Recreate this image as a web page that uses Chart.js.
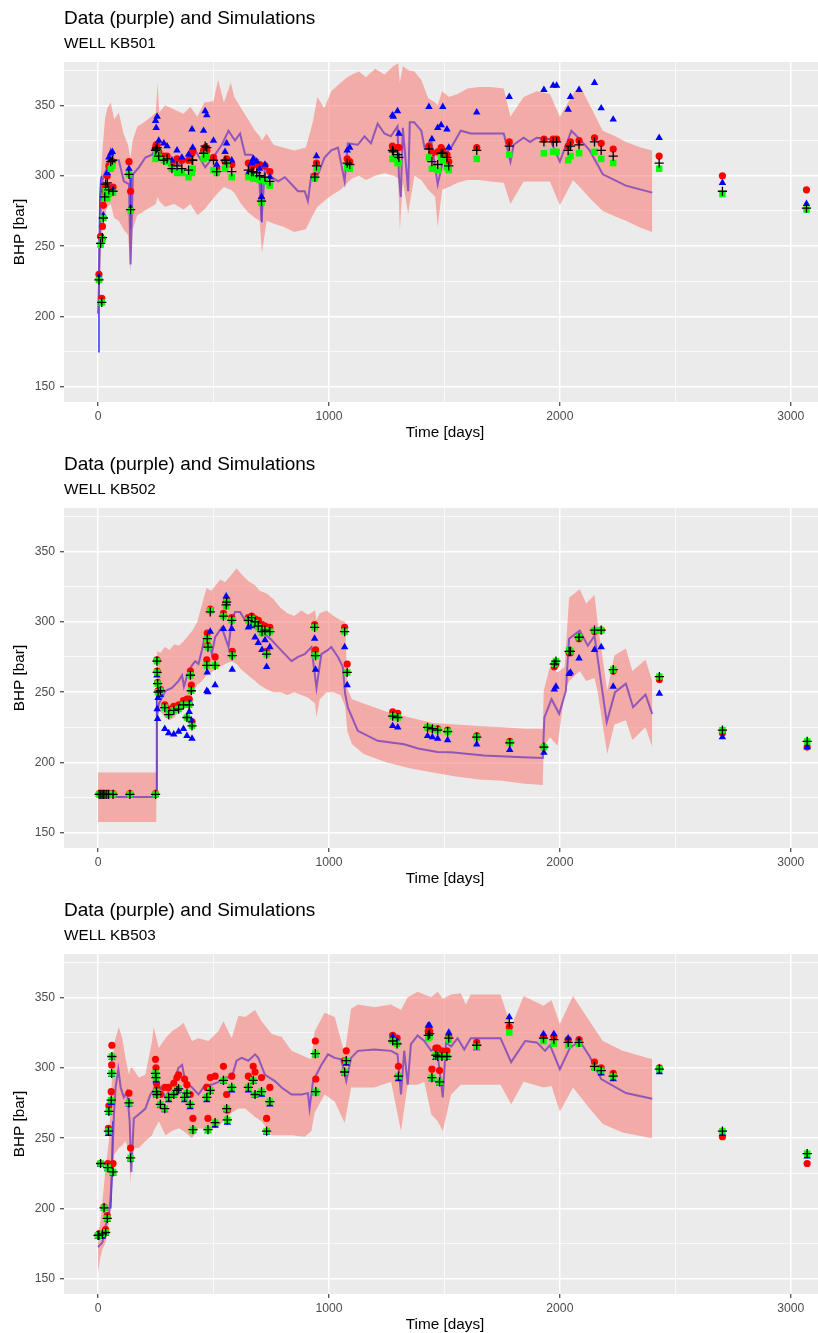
<!DOCTYPE html>
<html>
<head>
<meta charset="utf-8">
<title>BHP data and simulations</title>
<script src="https://cdn.jsdelivr.net/npm/chart.js@4.4.1/dist/chart.umd.min.js"></script>
<style>
  html, body { margin: 0; padding: 0; background: #ffffff; overflow: hidden; width: 818px; height: 1333px; }
  canvas.panel { position: absolute; left: 0; }
</style>
</head>
<body>
<canvas id="kb501" class="panel" width="832" height="446" style="top:0px"></canvas>
<canvas id="kb502" class="panel" width="832" height="446" style="top:446px"></canvas>
<canvas id="kb503" class="panel" width="832" height="446" style="top:892px"></canvas>
<script>
// ---------- axis ticks ----------
const xTickValues = [0, 500, 1000, 1500, 2000, 2500, 3000];
const yTickValues = [150, 175, 200, 225, 250, 275, 300, 325, 350, 375];

// ---------- WELL KB501 ----------
const kb501BandDays = [0,5,10,20,30,40,55,70,90,110,130,140,150,170,200,230,250,258,265,290,330,370,400,430,460,500,520,545,575,590,620,650,680,700,710,730,760,800,850,900,930,950,980,1010,1050,1080,1100,1130,1160,1200,1240,1280,1300,1307,1320,1343,1370,1400,1430,1460,1471,1490,1520,1557,1600,1650,1700,1757,1786,1843,1900,1957,2000,2057,2086,2130,2186,2240,2286,2350,2400];
const kb501BandHigh = [232,262,295,320,340,348,352,340,345,330,322,312,325,335,338,342,345,366,345,350,347,344,349,342,352,353,368,352,366,356,348,340,332,328,325,330,322,320,318,320,338,356,348,360,366,370,372,374,370,376,372,378,380,366,378,375,374,368,355,352,350,360,356,358,362,363,363,362,342,356,360,358,342,358,364,350,332,328,324,320,318];
const kb501BandLow = [198,215,240,262,272,278,280,270,268,262,258,232,262,272,275,278,280,285,282,278,280,276,280,272,276,284,288,292,290,288,280,274,270,268,245,268,266,264,260,262,272,278,282,286,290,295,298,300,297,300,302,300,298,261,296,273,300,297,290,285,264,290,292,295,297,297,296,295,280,296,296,296,279,297,292,284,275,271,268,263,260];
const kb501DataDays = [0,5,10,15,25,40,55,69,90,112,134,141,151,177,205,234,249,277,306,349,392,421,464,507,536,565,593,615,637,665,694,708,723,752,780,809,838,866,895,909,924,953,981,1010,1039,1068,1082,1125,1154,1182,1211,1240,1268,1297,1303,1311,1320,1343,1350,1369,1400,1414,1443,1471,1500,1529,1571,1614,1757,1786,1800,1843,1871,1900,1957,2000,2050,2086,2129,2186,2286,2400];
const kb501DataBhp = [202,230,270,294,300,306,318,311,311,296,294,237,301,306,313,315,320,315,312,308,313,318,306,315,322,332,325,330,315,315,311,268,306,299,296,299,294,289,289,282,301,301,313,318,320,296,323,322,328,323,337,330,328,335,300,285,334,289,338,338,332,320,325,294,315,320,332,330,330,310,322,327,324,327,326,310,332,326,318,301,293,288];
const kb501BlueDays = [0,4,8,12,16,100,139,141,143,400,706,708,710];
const kb501BlueBhp = [175,232,285,297,300,null,300,262,300,null,300,267,300];
const kb501ObsDays = [4,11,16,19,23,29,33,40,47,55,62,65,134,141,249,252,256,263,285,299,320,342,363,392,407,410,457,464,471,500,514,550,557,579,651,665,672,687,700,708,723,744,939,946,1079,1090,1275,1279,1297,1303,1433,1446,1471,1486,1493,1511,1519,1640,1781,1931,1971,1986,2036,2046,2083,2150,2179,2231,2430,2704,3068];
const kb501Red = [230,257,213,264,279,289,292,300,307,306,310,292,310,289,320,322,322,317,314,314,308,312,311,311,316,318,318,320,318,313,305,310,312,308,309,306,309,308,308,283,307,303,300,309,312,310,321,319,320,320,321,316,317,320,318,315,310,320,324,326,326,326,321,324,325,327,323,319,314,300,290];
const kb501Blue = [228,253,210,256,272,285,290,302,313,316,317,290,305,277,339,334,342,325,323,321,311,318,313,315,333,320,332,346,343,325,308,317,323,311,302,309,312,310,305,285,308,299,299,314,318,320,343,342,346,330,349,326,334,336,349,333,320,345,356,361,364,364,347,356,361,366,348,340,327,295,280];
const kb501Green = [226,251,210,255,270,284,289,284,287,305,307,288,301,275,312,315,318,313,311,310,305,302,302,299,302,305,312,315,313,304,302,305,308,299,299,301,298,298,297,281,296,293,298,305,306,305,312,312,309,309,313,305,304,313,311,306,304,312,315,316,317,317,311,314,316,317,312,309,305,287,276];
const kb501Black = [226,252,210,256,270,285,294,295,290,310,311,289,301,276,318,319,320,314,311,312,305,307,305,304,311,311,316,321,320,311,303,311,309,303,304,303,303,302,300,282,299,296,299,307,309,308,318,317,315,313,319,310,308,316,316,313,307,318,321,324,324,324,318,321,322,324,318,314,309,289,277];

// ---------- WELL KB502 ----------
const kb502BandDays = [0,252,256,270,290,310,330,350,370,390,410,430,450,470,490,510,530,550,580,600,620,650,680,700,730,760,790,820,850,880,910,940,946,960,990,1020,1050,1070,1080,1100,1150,1250,1350,1450,1550,1650,1750,1850,1926,1930,1957,1990,2021,2040,2086,2114,2150,2164,2205,2236,2286,2314,2371,2400];
const kb502BandHigh = [193,193,279,278,282,280,284,283,286,290,294,300,312,324,322,326,330,328,334,338,334,329,326,322,320,316,310,306,304,308,305,308,301,306,308,304,301,300,252,245,242,236,232,228,227,226,225,224,224,251,268,264,268,317,323,313,319,299,251,276,281,265,273,258];
const kb502BandLow = [157.7,157.7,238,236,232,230,232,236,242,245,250,255,258,262,264,266,268,270,272,270,266,262,258,255,252,250,250,248,250,248,246,242,232,245,250,250,248,240,222,213,206,200,196,193,190,188,187,185,184,211,218,212,250,258,265,258,260,250,206,227,230,216,225,211];
const kb502DataDays = [0,253,255,263,292,320,349,364,372,392,407,421,435,450,464,478,493,507,536,565,579,593,615,637,665,694,723,752,780,809,838,866,895,924,946,967,996,1010,1039,1060,1070,1082,1125,1211,1326,1386,1470,1529,1671,1814,1926,1933,1964,1997,2026,2040,2086,2121,2150,2203,2239,2286,2317,2371,2400];
const kb502DataBhp = [175.5,175.5,232,241.5,251,253,258,262,254,265,269,272,270,280,291,287,277,289,296,282,301,307,307,301,298,294,291,287,282,277,272,275,277,282,253,277,280,282,275,268,249,239,222.5,215.4,213,210,207.5,207.3,205,204,203.3,232,245,234.6,251,288,293.8,283,290,228.7,250,256,239.3,248.3,234.6];
const kb502BlueDays = [250,253,254];
const kb502BlueBhp = [175.5,175.5,250];
const kb502ObsDays = [5,12,18,24,30,38,46,65,138,249,255,256,258,260,270,289,306,328,349,370,385,395,400,404,407,471,473,476,486,507,543,555,557,579,581,651,665,680,694,710,723,730,744,938,942,1068,1079,1276,1298,1427,1448,1471,1514,1640,1783,1931,1976,1983,2040,2046,2083,2150,2179,2231,2431,2704,3071];
const kb502Red = [178,178,178,178,178,178,178,178,178,178,273,265,257,251,252,241,238,240,241,244,245,245,265,255,229,273,292,283,309,275,306,313,316,303,279,303,304,302,301,298,297,279,296,298,280,296,270,236,235,225,224,224,223,219,215,211,268,270,278,278,288,293,294,265,259,221,211];
const kb502Blue = [177,177,177,177,177,177,177,177,177,177,262,238,231,246,248,224,221,220,222,224,219,236,242,230,217,251,264,250,293,255,295,318,315,295,266,296,297,289,285,280,287,268,282,288,266,282,255,226,225,219,218,217,216,213,209,207,252,254,263,264,274,280,282,254,249,218,211];
const kb502Green = [177.4,177.4,177.4,177.4,177.4,177.4,177.4,177.4,177.4,177.4,272,264,256,250,251,239,234,237,238,241,232,241,262,251,226,269,288,282,308,269,304,311,314,301,276,301,302,299,296,292,294,277,293,296,276,293,264,233,232,225,224,223,222,218,214,211,270,272,280,279,289,294,294,266,261,223,215];
const kb502Black = [177.4,177.4,177.4,177.4,177.4,177.4,177.4,177.4,177.4,177.4,272,264,256,250,251,239,234,237,238,241,232,241,262,251,226,269,288,282,307,269,304,312,314,301,276,301,303,300,297,293,294,277,293,296,276,293,264,233,232,225,224,223,222,218,214,211,270,272,279,279,289,294,294,266,261,223,215];

// ---------- WELL KB503 ----------
const kb503BandDays = [0,10,19,33,47,59,69,90,105,119,134,141,148,177,205,234,241,263,292,320,349,370,407,435,478,521,543,579,608,637,680,708,752,795,838,895,924,938,981,1025,1068,1096,1125,1197,1269,1312,1341,1384,1413,1443,1471,1493,1529,1571,1593,1614,1743,1789,1843,1929,1964,2000,2057,2129,2186,2271,2400];
const kb503BandHigh = [183,190,205,229,248,288,317,329,321,307,295,300,300,293,295,319,329,314,321,326,329,332,319,321,319,326,333,321,337,336,341,333,324,322,312,308,306,326,339,336,310,342,345,343,345,341,350,354,352,350,354,349,352,353,345,352,352,329,351,344,348,331,351,333,319,312,306];
const kb503BandLow = [155,165,171,176,190,205,238,243,245,248,240,217,243,243,248,252,255,262,252,255,257,255,250,257,256,258,262,268,271,271,265,262,252,252,252,251,255,268,281,276,261,286,286,286,290,255,288,288,290,267,262,255,281,288,288,288,288,274,290,286,287,269,286,271,260,254,250];
const kb503DataDays = [0,19,33,47,55,62,69,76,88,98,112,126,137,144,155,177,205,227,249,263,292,320,349,364,378,407,435,464,493,521,550,579,600,622,651,680,694,723,766,795,838,881,909,916,931,967,996,1025,1053,1075,1096,1125,1197,1269,1297,1312,1326,1341,1355,1384,1413,1443,1457,1474,1493,1507,1529,1557,1586,1614,1743,1789,1850,1900,1936,1957,2000,2043,2086,2129,2179,2286,2400];
const kb503DataBhp = [172.6,176,188,195,209.5,236,267,286,299,286,279,283,262,226,264,267,271,281,286,288,279,288,300,302,290,286,281,288,288,290,293,293,305,307,305,309.5,307,295,290.5,286,281,281,282,271,290.5,302,309.5,307,306,290.5,307,312,313,312,309.5,281,312,288,316.7,323,319,312,314,305,279,318,315,321,313,321,321,304,319,318,312,316,299,314,319,308,292,282,278];
const kb503BlueDays = [55,60,64];
const kb503BlueBhp = [200,222,262];
const kb503ObsDays = [0,4,11,19,26,33,40,42,45,47,57,59,60,65,134,141,249,251,253,255,270,289,306,328,342,349,375,385,399,411,471,476,486,507,543,557,560,579,651,672,680,708,730,744,941,943,1068,1075,1276,1295,1301,1430,1436,1446,1463,1471,1479,1489,1511,1519,1640,1781,1929,1974,2036,2083,2150,2179,2231,2431,2704,3071];
const kb503Red = [181,182,232,181,201,185,195,232,257,273,283,302,316,232,282,243,306,300,289,285,281,286,286,289,293,295,292,288,281,264,286,264,293,294,301,281,270,294,294,301,297,293,264,286,319,292,305,312,323,321,301,326,326,299,314,314,298,312,312,322,318,329,322,322,320,320,304,300,296,300,251,232];
const kb503Blue = [180,180,231,180,200,182,192,228,253,268,275,295,307,225,274,235,295,291,281,280,273,270,277,280,283,284,277,281,272,255,277,255,283,259,290,270,261,284,284,290,280,281,254,274,309,282,296,303,322,319,292,330,330,292,307,307,289,307,307,325,314,336,324,324,321,319,300,296,292,297,253,237];
const kb503Green = [181,181,232,182,200.5,183,193,229,255,269,277,296,308,226,275,236,296,293,283,281,274,271,279,281,284,285,279,282,274,256,279,256,284,261,291,271,263,286,286,291,281,283,255,276,310,283,297,305,319,317,294,321,322,293,309,308,290,308,308,320,315,325,319,317,316,317,300,298,294,299,255,239];
const kb503Black = [181,181,232,182,200.5,183,193,229,255,269,277,296,308,226,275,236,296,293,283,281,274,271,279,281,284,285,279,282,274,256,279,256,284,261,291,271,263,286,286,291,281,283,255,276,310,283,297,305,319,317,294,323,324,293,309,308,290,308,308,321,316,332,321,320,318,318,301,298,294,299,255,239];

// ---------- layout of each panel (pixels) ----------
const CANVAS_H = 446;
const PLOT_LEFT = 64;
const PLOT_BOTTOM = 402;
const X_MIN = -147.4, X_MAX = 3153;
const Y_MIN = 139.3, Y_MAX = 380.8;

Chart.defaults.font.family = "'Liberation Sans', Arial, Helvetica, sans-serif";

function pairs(xs, ys) {
  return xs.map((x, i) => ({ x: x, y: ys[i] }));
}

function isMajor(v, step) {
  return Math.abs(v % step) < 1e-6;
}

function gridFor(step) {
  return {
    color: '#FFFFFF',
    lineWidth: c => (c.tick && isMajor(c.tick.value, step)) ? 1.5 : 0.7,
    tickColor: c => (c.tick && isMajor(c.tick.value, step)) ? '#333333' : 'rgba(0,0,0,0)',
    tickWidth: 1.1,
    tickLength: 4,
    drawTicks: true
  };
}

// grey panel background behind the grid
const panelBackground = {
  id: 'panelBackground',
  beforeDraw(chart) {
    const a = chart.chartArea;
    const ctx = chart.ctx;
    ctx.save();
    ctx.fillStyle = '#EBEBEB';
    ctx.fillRect(a.left, a.top, a.right - a.left, a.bottom - a.top);
    ctx.restore();
  }
};

function drawPanel(canvasId, wellName, band, dataLine, blueLine, obs) {
  const datasets = [
    { label: 'simulation envelope', data: pairs(band.days, band.high), showLine: true, fill: '+1',
      backgroundColor: 'rgba(248,118,109,0.55)', borderWidth: 0, pointRadius: 0, order: 10 },
    { label: 'envelope lower', data: pairs(band.days, band.low), showLine: true, fill: false,
      borderWidth: 0, pointRadius: 0, order: 11 },
    { label: 'start-up', data: pairs(blueLine.days, blueLine.bhp), showLine: true, spanGaps: false,
      borderColor: 'rgba(35,35,255,0.85)', borderWidth: 1.6, pointRadius: 0, order: 5 },
    { label: 'data', data: pairs(dataLine.days, dataLine.bhp), showLine: true,
      borderColor: 'rgba(128,70,190,0.85)', borderWidth: 2, pointRadius: 0, order: 4 },
    { label: 'run 1', data: pairs(obs.days, obs.red), pointStyle: 'circle', pointRadius: 3.6,
      pointBackgroundColor: '#FF0000', pointBorderWidth: 0, order: 3 },
    { label: 'run 2', data: pairs(obs.days, obs.blue), pointStyle: 'triangle', pointRadius: 4.3,
      pointBackgroundColor: '#0000FF', pointBorderWidth: 0, order: 2 },
    { label: 'run 3', data: pairs(obs.days, obs.green), pointStyle: 'rect', pointRadius: 4.6,
      pointBackgroundColor: '#00FF00', pointBorderWidth: 0, order: 1 },
    { label: 'run 4', data: pairs(obs.days, obs.black), pointStyle: 'cross', pointRadius: 4.6,
      pointBorderColor: '#000000', pointBorderWidth: 1.3, order: 0 }
  ];

  new Chart(document.getElementById(canvasId), {
    type: 'scatter',
    data: { datasets: datasets },
    options: {
      responsive: false,
      animation: false,
      devicePixelRatio: 1,
      layout: { padding: 0 },
      plugins: {
        legend: { display: false },
        tooltip: { enabled: false },
        title: {
          display: true, text: 'Data (purple) and Simulations', align: 'start', fullSize: false,
          color: '#000000', font: { size: 19, weight: 'normal' }, padding: { top: 7, bottom: 3 }
        },
        subtitle: {
          display: true, text: wellName, align: 'start', fullSize: false,
          color: '#000000', font: { size: 15.3, weight: 'normal' }, padding: { top: 2.2, bottom: 8.64 }
        }
      },
      scales: {
        x: {
          type: 'linear', min: X_MIN, max: X_MAX,
          afterBuildTicks: s => { s.ticks = xTickValues.map(v => ({ value: v })); },
          afterFit: s => { s.height = CANVAS_H - PLOT_BOTTOM; },
          ticks: {
            callback: v => isMajor(v, 1000) ? String(v) : '',
            color: '#4D4D4D', font: { size: 12.2 }, padding: 3.5, autoSkip: false, maxRotation: 0
          },
          grid: gridFor(1000),
          border: { display: false },
          title: { display: true, text: 'Time [days]', color: '#000000', font: { size: 15.3 }, padding: { top: 0, bottom: 4.2 } }
        },
        y: {
          type: 'linear', min: Y_MIN, max: Y_MAX,
          afterBuildTicks: s => { s.ticks = yTickValues.map(v => ({ value: v })); },
          afterFit: s => { s.width = PLOT_LEFT; },
          ticks: {
            callback: v => isMajor(v, 50) ? String(v) : '',
            color: '#4D4D4D', font: { size: 12.2 }, padding: 5, autoSkip: false
          },
          grid: gridFor(50),
          border: { display: false },
          title: { display: true, text: 'BHP [bar]', color: '#000000', font: { size: 15.3 }, padding: { top: 10.8, bottom: 0 } }
        }
      }
    },
    plugins: [panelBackground]
  });
}

drawPanel('kb501', 'WELL KB501',
  { days: kb501BandDays, high: kb501BandHigh, low: kb501BandLow },
  { days: kb501DataDays, bhp: kb501DataBhp },
  { days: kb501BlueDays, bhp: kb501BlueBhp },
  { days: kb501ObsDays, red: kb501Red, blue: kb501Blue, green: kb501Green, black: kb501Black });

drawPanel('kb502', 'WELL KB502',
  { days: kb502BandDays, high: kb502BandHigh, low: kb502BandLow },
  { days: kb502DataDays, bhp: kb502DataBhp },
  { days: kb502BlueDays, bhp: kb502BlueBhp },
  { days: kb502ObsDays, red: kb502Red, blue: kb502Blue, green: kb502Green, black: kb502Black });

drawPanel('kb503', 'WELL KB503',
  { days: kb503BandDays, high: kb503BandHigh, low: kb503BandLow },
  { days: kb503DataDays, bhp: kb503DataBhp },
  { days: kb503BlueDays, bhp: kb503BlueBhp },
  { days: kb503ObsDays, red: kb503Red, blue: kb503Blue, green: kb503Green, black: kb503Black });
</script>
</body>
</html>
